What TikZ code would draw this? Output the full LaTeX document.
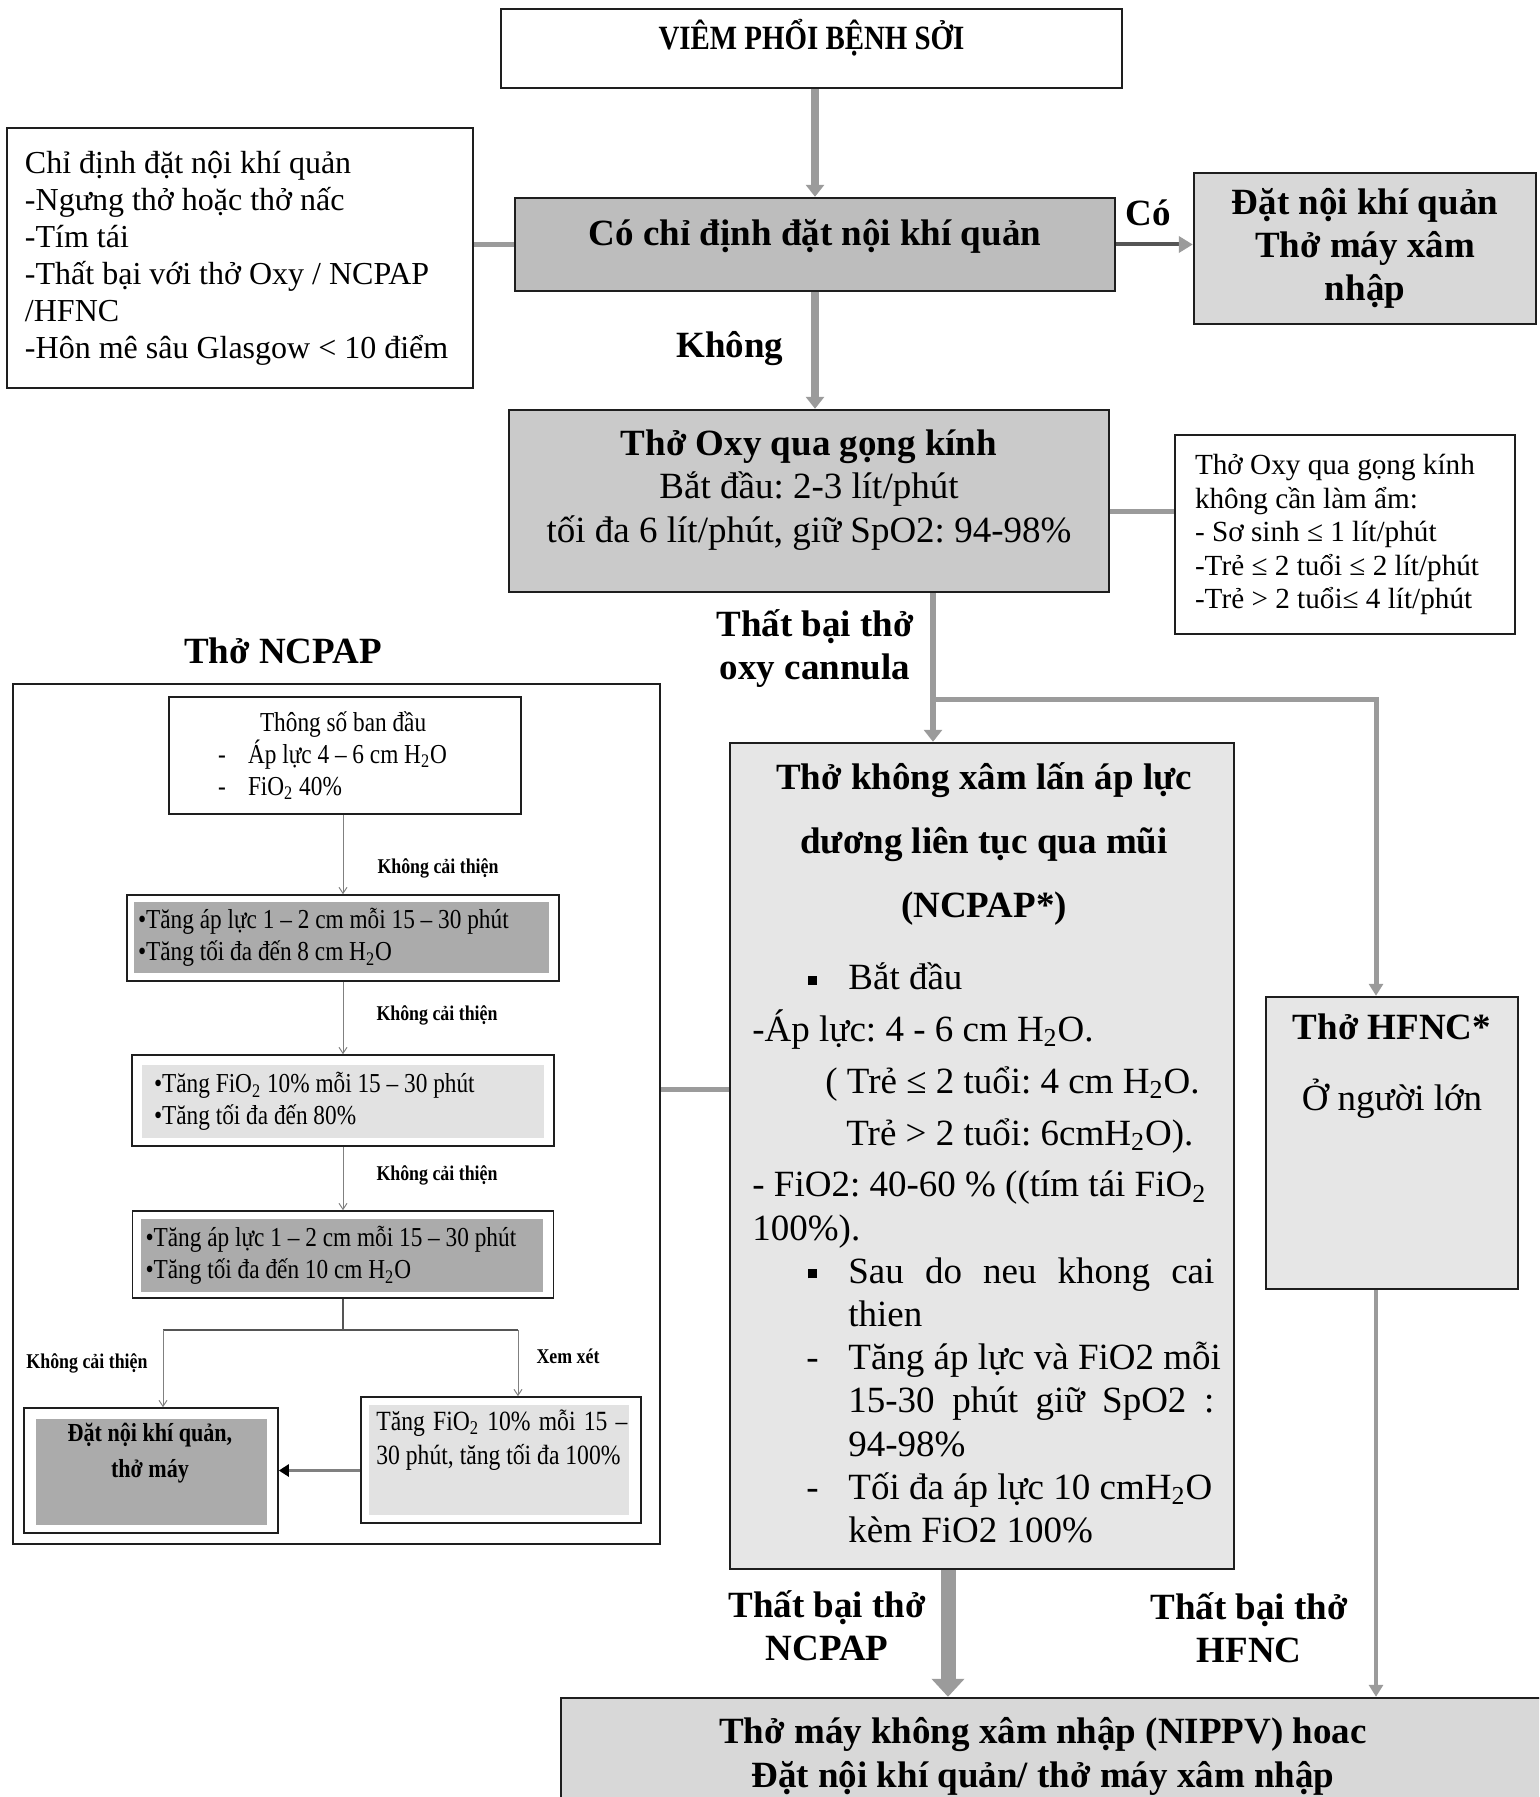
\documentclass[tikz,border=0pt]{standalone}
\usepackage{fontspec}
\setmainfont{Liberation Serif}
\newfontfamily\narrowfont[FakeStretch=0.85]{Liberation Serif}
\usepackage{tikz}
\usetikzlibrary{arrows.meta}
\frenchspacing

\definecolor{boxline}{HTML}{1E1E1E}
\definecolor{darkfill}{HTML}{BDBDBD}
\definecolor{midfill}{HTML}{CACACA}
\definecolor{lightfill}{HTML}{D8D8D8}
\definecolor{palefill}{HTML}{E6E6E6}
\definecolor{subdark}{HTML}{ABABAB}
\definecolor{sublight}{HTML}{E2E2E2}
\definecolor{linegray}{HTML}{9B9B9B}
\definecolor{darkgray}{HTML}{555555}

\newcommand{\plainsp}{\spaceskip=0pt\xspaceskip=0pt\relax}
\newcommand{\bigtxt}{\fontsize{18.5pt}{21.6pt}\selectfont}
\newcommand{\notetxt}{\fontsize{14.6pt}{16.75pt}\selectfont}
\newcommand{\subtxt}{\narrowfont\fontsize{13.7pt}{16pt}\selectfont}
\newcommand{\sublbl}{\narrowfont\bfseries\fontsize{10.5pt}{12pt}\selectfont}
\newcommand{\sqitem}{\hspace*{28pt}\makebox[20pt][l]{\raisebox{0.3ex}{\rule{4.5pt}{4.5pt}}}}
\newcommand{\dashitem}{\hspace*{27pt}\makebox[21pt][l]{-}}

\tikzstyle{block} = [rectangle, draw=boxline, line width=1.2pt, inner sep=0pt]
\tikzstyle{subbox} = [rectangle, draw=boxline, line width=0.8pt, fill=white, inner sep=0pt]
\tikzstyle{subfill} = [rectangle, inner sep=0pt]
\tikzstyle{tag} = [font=\bigtxt\bfseries, inner sep=0pt, align=center]
\tikzstyle{subtag} = [font=\sublbl, inner sep=0pt]
\tikzstyle{line} = [draw=linegray, line width=4pt, -{Triangle[width=9pt,length=6pt]}]
\tikzstyle{darkline} = [draw=darkgray, line width=2pt, -{Triangle[width=8pt,length=7pt,color=linegray]}]
\tikzstyle{branch} = [draw=linegray, line width=2pt, -{Triangle[width=7pt,length=6pt]}]
\tikzstyle{bigarrow} = [draw=linegray, line width=7.5pt, -{Triangle[width=16pt,length=9pt]}]
\tikzstyle{link} = [draw=linegray, line width=2.5pt]
\tikzstyle{thinline} = [draw=gray, line width=0.5pt, -{Straight Barb[length=3pt,width=4pt]}]
\tikzstyle{stem} = [draw=darkgray, line width=0.8pt]
\tikzstyle{backarrow} = [draw=gray, line width=1.5pt, -{Triangle[width=6pt,length=5pt,color=black]}]

\begin{document}
\begin{tikzpicture}[x=0.5pt, y=-0.5pt]
\useasboundingbox (0,0) rectangle (1539,1797);
\clip (0,0) rectangle (1539,1797);

% main column
\node [block, minimum width=310.5pt, minimum height=39.5pt, font=\narrowfont\bfseries\fontsize{17pt}{20pt}\selectfont, text height=15pt, text depth=14.25pt] (viem) at (811.5,48.5) {VIÊM PHỔI BỆNH SỞI};
\node [block, fill=darkfill, minimum width=300pt, minimum height=46.5pt, font=\bigtxt\bfseries, text height=16pt, text depth=15pt] (co) at (815,244.5) {Có chỉ định đặt nội khí quản};
\node [block, fill=white, minimum width=233pt, minimum height=130pt, text width=215pt, align=left, font=\fontsize{16pt}{18.5pt}\selectfont] (chidinh) at (240,258) {\plainsp Chỉ định đặt nội khí quản\\-Ngưng thở hoặc thở nấc\\-Tím tái\\-Thất bại với thở Oxy / NCPAP\\/HFNC\\-Hôn mê sâu Glasgow < 10 điểm\par\vspace{4.5pt}};
\node [block, fill=lightfill, minimum width=171pt, minimum height=75.5pt, font=\bigtxt\bfseries, align=center] (datnoi) at (1365,248.5) {Đặt nội khí quản\\Thở máy xâm\\nhập};
\node [tag] (yes) at (1148,213) {Có};
\node [tag] (no) at (730,349) {Không};

\node [block, fill=midfill, minimum width=300pt, minimum height=91pt] (oxy) at (809,501) {};
\node [align=center, font=\bigtxt, inner sep=0pt] (oxytext) at (809,490) {\textbf{Thở Oxy qua gọng kính}\\Bắt đầu: 2-3 lít/phút\\tối đa 6 lít/phút, giữ SpO2: 94-98\%};
\node [block, fill=white, minimum width=170pt, minimum height=99.5pt, text width=150pt, align=left, font=\notetxt] (note) at (1345,534.5) {\plainsp Thở Oxy qua gọng kính\\không cần làm ẩm:\\- Sơ sinh ≤ 1 lít/phút\\-Trẻ ≤ 2 tuổi ≤ 2 lít/phút\\-Trẻ > 2 tuổi≤ 4 lít/phút};
\node [tag] (failoxy) at (815,648.5) {Thất bại thở\\oxy cannula};

% NCPAP box
\node [block, fill=palefill, minimum width=252pt, minimum height=413pt] (ncpap) at (982,1156) {};
\node [align=center, font=\bigtxt\bfseries, inner sep=0pt] (ncpaphead) at (984,844) {Thở không xâm lấn áp lực\\[10.4pt]dương liên tục qua mũi\\[10.4pt](NCPAP*)};
\node [anchor=west, text width=245pt, align=left, font=\bigtxt, inner sep=0pt] (ncpapbody) at (752,1253) {\plainsp\sqitem Bắt đầu\\[4.3pt]
-Áp lực: 4 - 6 cm H\textsubscript{2}O.\\[4.3pt]
\hspace*{36.5pt}( Trẻ ≤ 2 tuổi: 4 cm H\textsubscript{2}O.\\[4.3pt]
\hspace*{47pt}Trẻ > 2 tuổi: 6cmH\textsubscript{2}O).\\[4.3pt]
- FiO2: 40-60 \% ((tím tái FiO\textsubscript{2}\\
100\%).\\
\sqitem\makebox[183pt][s]{Sau do neu khong cai}\\
\hspace*{48pt}thien\\
\dashitem Tăng áp lực và FiO2 mỗi\\
\hspace*{48pt}\makebox[183pt][s]{15-30 phút giữ SpO2 :}\\
\hspace*{48pt}94-98\%\\
\dashitem Tối đa áp lực 10 cmH\textsubscript{2}O\\
\hspace*{48pt}kèm FiO2 100\%};

% HFNC and bottom
\node [block, fill=palefill, minimum width=126pt, minimum height=146pt] (hfnc) at (1392,1143) {};
\node [align=center, font=\bigtxt, inner sep=0pt] (hfnctext) at (1392,1066.5) {\textbf{Thở HFNC*}\\[13.9pt]Ở người lớn};
\node [block, fill=lightfill, minimum width=500pt, minimum height=70pt] (nippv) at (1061,1768) {};
\node [align=center, font=\bigtxt\bfseries, inner sep=0pt] (nippvtext) at (1043,1756.5) {Thở máy không xâm nhập (NIPPV) hoac\\Đặt nội khí quản/ thở máy xâm nhập};
\node [tag] (failncpap) at (827,1625.5) {Thất bại thở\\NCPAP};
\node [tag] (failhfnc) at (1249,1628) {Thất bại thở\\HFNC};

% NCPAP steps on the left
\node [tag] (ncpaptitle) at (283,651) {Thở NCPAP};
\node [subbox, line width=1.2pt, minimum width=323.5pt, minimum height=430pt] (sub) at (336.5,1114) {};
\node [subbox, minimum width=176pt, minimum height=58.5pt, text width=127pt, align=left, font=\subtxt] (b1) at (345,755.5) {\plainsp\hspace*{21pt}Thông số ban đầu\\\makebox[15pt][l]{-}Áp lực 4 – 6 cm H\textsubscript{2}O\\\makebox[15pt][l]{-}FiO\textsubscript{2} 40\%};
\node [subbox, minimum width=216pt, minimum height=43pt] (b2) at (343,938) {};
\node [subfill, fill=subdark, minimum width=207.5pt, minimum height=35.5pt, text width=203pt, align=left, font=\subtxt] (b2in) at (341,937.5) {\plainsp•Tăng áp lực 1 – 2 cm mỗi 15 – 30 phút\\•Tăng tối đa đến 8 cm H\textsubscript{2}O};
\node [subbox, minimum width=211pt, minimum height=45.5pt] (b3) at (343,1100.5) {};
\node [subfill, fill=sublight, minimum width=201pt, minimum height=36.5pt, text width=189pt, align=left, font=\subtxt] (b3in) at (343,1101.5) {\plainsp•Tăng FiO\textsubscript{2} 10\% mỗi 15 – 30 phút\\•Tăng tối đa đến 80\%};
\node [subbox, minimum width=210.5pt, minimum height=43.5pt] (b4) at (343,1254.5) {};
\node [subfill, fill=subdark, minimum width=201pt, minimum height=36.5pt, text width=196.5pt, align=left, font=\subtxt] (b4in) at (342,1255.5) {\plainsp•Tăng áp lực 1 – 2 cm mỗi 15 – 30 phút\\•Tăng tối đa đến 10 cm H\textsubscript{2}O};
\node [subbox, minimum width=127pt, minimum height=62.5pt] (b5) at (151,1470.5) {};
\node [subfill, fill=subdark, minimum width=115.5pt, minimum height=53pt] (b5in) at (151.5,1472) {};
\node [align=center, inner sep=0pt, font=\narrowfont\bfseries\fontsize{13pt}{18pt}\selectfont] (b5text) at (150,1453) {Đặt nội khí quản,\\thở máy};
\node [subbox, minimum width=140pt, minimum height=63pt] (b6) at (501,1460) {};
\node [subfill, fill=sublight, minimum width=130pt, minimum height=55pt] (b6in) at (499,1460) {};
\node [anchor=west, text width=128pt, align=left, inner sep=0pt, font=\narrowfont\fontsize{13.9pt}{17pt}\selectfont] (b6text) at (376,1440) {\plainsp\makebox[125.5pt][s]{Tăng FiO\textsubscript{2} 10\% mỗi 15 –}\\30 phút, tăng tối đa 100\%};
\node [subtag] (lab1) at (438,868) {Không cải thiện};
\node [subtag] (lab2) at (437,1015) {Không cải thiện};
\node [subtag] (lab3) at (437,1175) {Không cải thiện};
\node [subtag] (lab4) at (87,1363) {Không cải thiện};
\node [subtag] (lab5) at (568,1356) {Xem xét};
\coordinate (split) at (343,1330);
\coordinate (lsplit) at (163,1330);
\coordinate (rsplit) at (518,1330);
\coordinate (fork) at (933,699);
\coordinate (hfork) at (1376,699);

% Draw the edges
\path [line] (co.north |- viem.south) -- (co.north);
\path [darkline] (co.east) -- (co.east -| datnoi.west);
\path [link] (chidinh.east |- co.west) -- (co.west);
\path [line] (co.south) -- (co.south |- oxy.north);
\path [link] ([yshift=-5pt]oxy.east) -- ([yshift=-5pt]oxy.east -| note.west);
\path [line, line width=3pt] (oxy.south -| fork) -- (fork |- ncpap.north);
\path [branch, line width=2.5pt] (fork) -- (hfork) -- (hfork |- hfnc.north);
\path [link] ([yshift=12.5pt]sub.east) -- ([yshift=12.5pt]sub.east -| ncpap.west);
\path [bigarrow] ([xshift=-17pt]ncpap.south) -- ([xshift=-17pt]ncpap.south |- nippv.north);
\path [branch] (hfnc.south -| hfork) -- (hfork |- nippv.north);
\path [thinline] (b1.south -| b2.north) -- (b2.north);
\path [thinline] (b2.south) -- (b2.south |- b3.north);
\path [thinline] (b3.south) -- (b3.south |- b4.north);
\path [stem] (b4.south) -- (split);
\path [stem] (lsplit) -- (rsplit);
\path [thinline] (lsplit) -- (lsplit |- b5.north);
\path [thinline] (rsplit) -- (rsplit |- b6.north);
\path [backarrow] (b6.west |- b5.east) -- (b5.east);
\end{tikzpicture}
\end{document}
